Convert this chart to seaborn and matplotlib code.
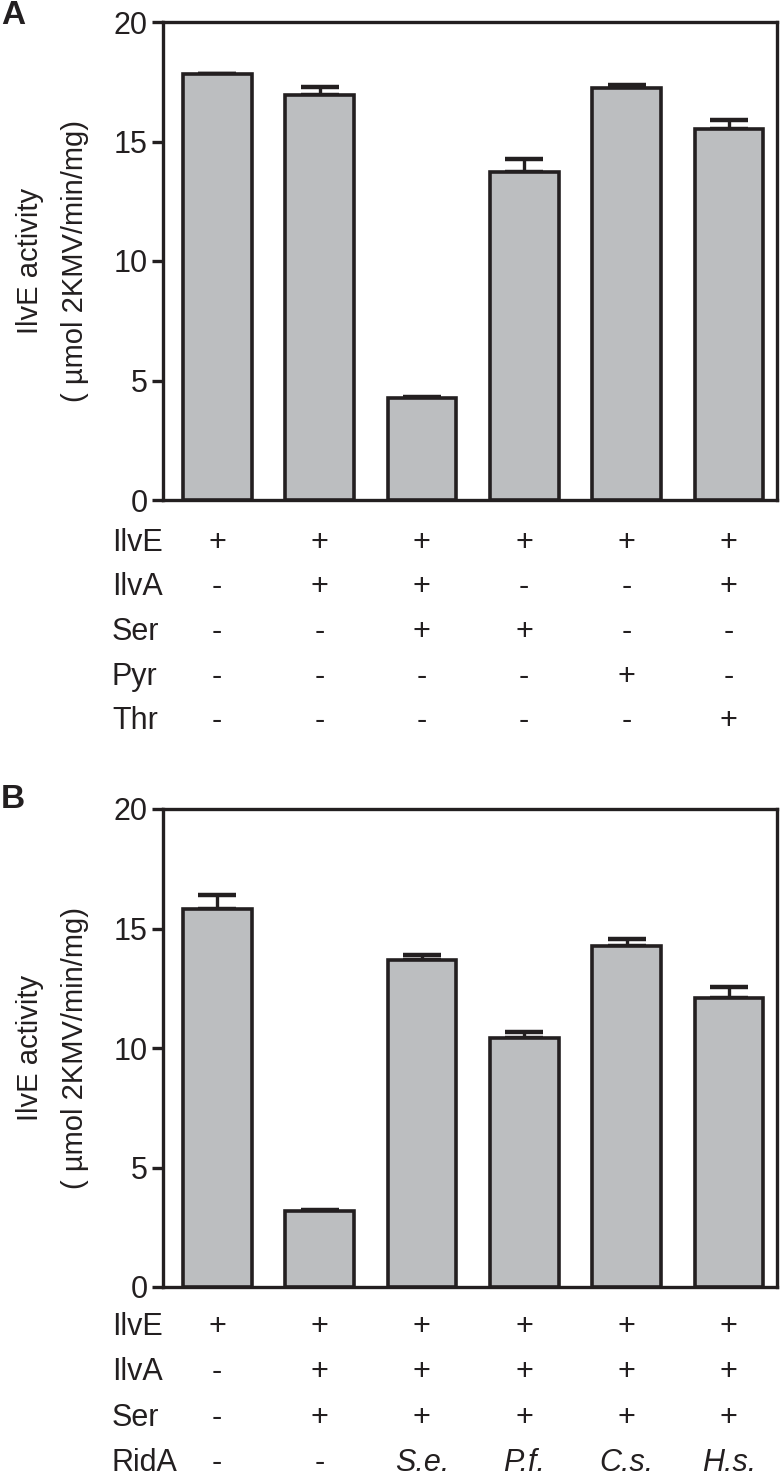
import numpy as np
import matplotlib
matplotlib.use("Agg")
import matplotlib.pyplot as plt
import matplotlib.transforms as mtransforms
import seaborn as sns

# ---- data ----
conditions = ["c1", "c2", "c3", "c4", "c5", "c6"]
a_values = [17.83, 16.93, 4.25, 13.72, 17.23, 15.53]
a_errors = [0.0, 0.35, 0.05, 0.54, 0.12, 0.38]
b_values = [15.81, 3.18, 13.70, 10.40, 14.27, 12.10]
b_errors = [0.60, 0.05, 0.18, 0.26, 0.28, 0.45]

a_rows = ["IlvE", "IlvA", "Ser", "Pyr", "Thr"]
a_table = [
    ["+", "+", "+", "+", "+", "+"],
    ["-", "+", "+", "-", "-", "+"],
    ["-", "-", "+", "+", "-", "-"],
    ["-", "-", "-", "-", "+", "-"],
    ["-", "-", "-", "-", "-", "+"],
]
b_rows = ["IlvE", "IlvA", "Ser", "RidA"]
b_table = [
    ["+", "+", "+", "+", "+", "+"],
    ["-", "+", "+", "+", "+", "+"],
    ["-", "+", "+", "+", "+", "+"],
    ["-", "-", "S.e.", "P.f.", "C.s.", "H.s."],
]
y_ticks = [0, 5, 10, 15, 20]
y_label = "IlvE activity\n( \u00b5mol 2KMV/min/mg)"

sns.set_theme(style="white")
plt.rcParams["font.family"] = ["Liberation Sans", "DejaVu Sans"]

W, H = 783, 1482
fig = plt.figure(figsize=(W / 100, H / 100), dpi=100)

INK = "#231f20"
BAR = "#bcbec0"
FS = 22


def panel(ax_rect_px, values, errors, rows, table, row_y_px, letter, letter_y_px):
    l, t, r, b = ax_rect_px
    ax = fig.add_axes([l / W, 1 - b / H, (r - l) / W, (b - t) / H])
    sns.barplot(x=conditions, y=values, color=BAR, width=0.67,
                edgecolor=INK, linewidth=2.6, errorbar=None, ax=ax,
                saturation=1, zorder=3)
    ax.errorbar(range(len(values)), values,
                yerr=[np.zeros(len(errors)), errors], fmt="none",
                ecolor=INK, elinewidth=2.4, capsize=13.5, capthick=3.2,
                zorder=2)
    ax.set_xlim(-0.53, 5.47)
    ax.set_ylim(0, 20)
    ax.set_yticks(y_ticks)
    ax.set_xticks([])
    ax.set_xlabel("")
    for s in ax.spines.values():
        s.set_visible(True)
        s.set_color(INK)
        s.set_linewidth(2.4)
    ax.tick_params(axis="y", direction="out", length=8, width=2.4,
                   color=INK, labelsize=FS, labelcolor=INK, pad=3, left=True)
    ax.set_ylabel(y_label, fontsize=21, color=INK, linespacing=1.75)
    ax.yaxis.set_label_coords((89 - l) / (r - l), 0.5)

    trans = mtransforms.blended_transform_factory(ax.transData, fig.transFigure)
    for ri, (rname, ry) in enumerate(zip(rows, row_y_px)):
        fig.text(112 / W, 1 - ry / H, rname, fontsize=FS, color=INK,
                 ha="left", va="center")
        for ci, sym in enumerate(table[ri]):
            style = "italic" if sym not in ("+", "-") else "normal"
            ax.text(ci, 1 - ry / H, sym, transform=trans, fontsize=FS,
                    color=INK, ha="center", va="center", style=style)
    fig.text(1 / W, 1 - letter_y_px / H, letter, fontsize=24,
             fontweight="bold", color=INK, ha="left", va="center")
    return ax


panel((163, 22, 777, 500), a_values, a_errors, a_rows, a_table,
      [543, 587, 632, 677, 721], "A", 16)
panel((163, 809, 777, 1287), b_values, b_errors, b_rows, b_table,
      [1327, 1372, 1418, 1463], "B", 800)

fig.savefig("out.png", dpi=100)
